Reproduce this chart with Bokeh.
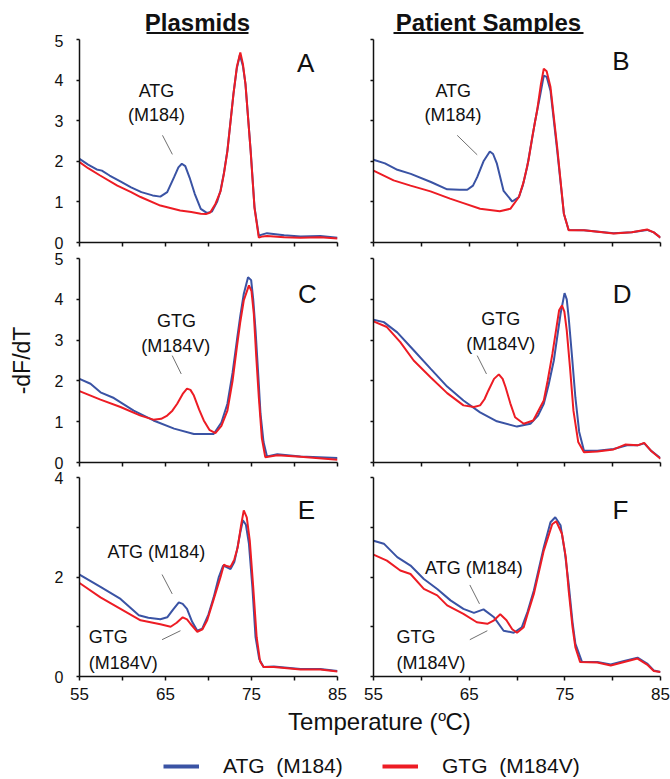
from bokeh.plotting import figure
from bokeh.layouts import column, row
from bokeh.models import Range1d, FixedTicker, Legend, LegendItem
from bokeh.core.properties import value
from bokeh.embed import file_html
from bokeh.resources import INLINE

FONT = "Liberation Sans"
BLUE = "#3a53a4"
RED = "#ed1c24"
LEADER = "#707070"
INK = "#111111"

# ---------------- data ----------------
x_major_ticks = [55, 65, 75, 85]
x_minor_ticks = [60, 70, 80]
y_ticks_5 = [0, 1, 2, 3, 4, 5]
y_major_ticks_4 = [0, 2, 4]
y_minor_ticks_4 = [1, 3]

col_titles = ["Plasmids", "Patient Samples"]
series_names = ["ATG  (M184)", "GTG  (M184V)"]
x_title = "Temperature ("
x_title_sup = "o"
x_title_end = "C)"
y_title = "-dF/dT"

# Panel A (plasmids)
a_atg_t = [55, 56, 57, 57.6, 58.5, 59.8, 61, 62.2, 63.5, 64.4, 65.2, 66.0, 66.5, 66.9, 67.3, 67.8, 68.4, 69.1,
           69.8, 70.4, 71.0, 71.4, 71.8, 72.2, 72.9, 73.3, 73.65, 74.0, 74.3, 74.9, 75.35, 75.85, 76.3, 76.8,
           78.8, 80.7, 83.0, 85]
a_atg_v = [2.06, 1.92, 1.80, 1.77, 1.65, 1.50, 1.36, 1.24, 1.16, 1.13, 1.24, 1.61, 1.85, 1.94, 1.88, 1.60, 1.20,
           0.83, 0.73, 0.76, 1.00, 1.28, 1.72, 2.27, 3.66, 4.30, 4.62, 4.35, 3.90, 2.27, 0.87, 0.17, 0.20, 0.23,
           0.18, 0.15, 0.16, 0.12]
a_gtg_t = [55, 56, 57.4, 59.4, 61, 62.1, 64.4, 66.7, 68.0, 69.1, 69.7, 70.2, 70.8, 71.4, 71.8, 72.2, 72.9, 73.3,
           73.7, 74.0, 74.3, 74.9, 75.35, 75.85, 76.3, 76.8, 78.8, 80.7, 83.0, 85]
a_gtg_v = [1.98, 1.83, 1.65, 1.40, 1.24, 1.12, 0.91, 0.79, 0.75, 0.71, 0.70, 0.74, 0.95, 1.26, 1.70, 2.25, 3.65,
           4.33, 4.68, 4.40, 3.90, 2.25, 0.85, 0.12, 0.15, 0.16, 0.13, 0.12, 0.13, 0.10]

# Panel B (patient samples)
b_atg_t = [55, 56.2, 57.5, 58.9, 61.0, 62.7, 64.0, 64.8, 65.4, 65.84, 66.5, 67.16, 67.5, 67.9, 68.6, 69.5, 70.2,
           70.6, 71.06, 71.5, 71.9, 72.4, 72.8, 73.1, 73.5, 74.2, 74.9, 75.4, 77.0, 80.1, 82.0, 83.6, 84.3, 85]
b_atg_v = [2.04, 1.95, 1.79, 1.69, 1.49, 1.31, 1.30, 1.30, 1.40, 1.61, 2.00, 2.24, 2.18, 1.94, 1.27, 1.01, 1.12,
           1.40, 1.86, 2.45, 3.00, 3.60, 4.11, 4.08, 3.74, 2.27, 0.71, 0.31, 0.30, 0.23, 0.25, 0.31, 0.25, 0.12]
b_gtg_t = [55, 57.1, 58.87, 60.96, 63.0, 64.4, 66.14, 68.2, 69.3, 70.2, 70.7, 71.2, 71.6, 72.1, 72.5, 72.8, 73.1,
           73.5, 74.2, 74.9, 75.4, 77.0, 80.1, 82.0, 83.6, 84.3, 85]
b_gtg_v = [1.77, 1.53, 1.40, 1.26, 1.08, 0.97, 0.83, 0.77, 0.83, 1.12, 1.50, 2.02, 2.60, 3.25, 3.90, 4.28, 4.22,
           3.83, 2.35, 0.71, 0.30, 0.30, 0.22, 0.25, 0.32, 0.25, 0.12]

# Panel C (plasmids)
c_atg_t = [55, 56.28, 57.44, 59.0, 61.3, 63.6, 66.0, 68.3, 70.6, 71.5, 72.2, 72.8, 73.3, 73.7, 74.1, 74.6, 74.96,
           75.2, 75.47, 75.8, 76.05, 76.4, 76.8, 78.0, 80.7, 85]
c_atg_v = [2.05, 1.93, 1.72, 1.58, 1.27, 1.03, 0.83, 0.70, 0.70, 0.98, 1.44, 2.20, 2.99, 3.60, 4.13, 4.54, 4.47,
           4.00, 3.24, 2.10, 1.19, 0.50, 0.15, 0.20, 0.15, 0.11]
c_gtg_t = [55, 57.44, 59.77, 62.1, 63.6, 64.5, 65.2, 65.8, 66.36, 67.0, 67.5, 67.9, 68.3, 68.9, 69.45, 70.1, 70.8,
           71.5, 72.2, 72.8, 73.3, 73.7, 74.1, 74.7, 75.0, 75.27, 75.55, 75.85, 76.2, 76.6, 78.0, 80.7, 85]
c_gtg_v = [1.75, 1.54, 1.36, 1.15, 1.05, 1.07, 1.15, 1.27, 1.44, 1.68, 1.81, 1.78, 1.64, 1.30, 1.03, 0.80, 0.72,
           0.90, 1.27, 2.00, 2.83, 3.45, 3.97, 4.34, 4.20, 3.64, 2.60, 1.60, 0.60, 0.13, 0.18, 0.14, 0.07]

# Panel D (patient samples)
d_atg_t = [55, 56.08, 57.48, 59.2, 60.96, 62.7, 64.4, 66.14, 67.9, 70.0, 71.4, 72.2, 72.8, 73.3, 73.85, 74.55,
           74.97, 75.2, 75.4, 75.75, 76.1, 76.5, 77.0, 78.4, 80.1, 81.5, 82.6, 83.3, 84.0, 85]
d_atg_v = [3.50, 3.44, 3.19, 2.75, 2.30, 1.86, 1.52, 1.23, 1.01, 0.88, 0.95, 1.15, 1.44, 1.90, 2.50, 3.64, 4.15,
           4.00, 3.56, 2.60, 1.60, 0.75, 0.29, 0.29, 0.33, 0.42, 0.42, 0.47, 0.29, 0.11]
d_gtg_t = [55, 56.4, 57.8, 59.2, 60.96, 62.7, 64.4, 65.5, 66.14, 66.6, 67.0, 67.6, 68.1, 68.5, 68.8, 69.3, 69.8,
           70.7, 71.7, 72.8, 73.2, 73.7, 74.4, 74.7, 74.95, 75.2, 75.55, 75.9, 76.4, 77.0, 78.4, 80.1, 81.3, 82.6,
           83.3, 84.0, 85]
d_gtg_v = [3.46, 3.32, 2.95, 2.50, 2.09, 1.70, 1.40, 1.36, 1.40, 1.55, 1.76, 2.05, 2.16, 2.05, 1.85, 1.45, 1.11,
           0.95, 1.03, 1.52, 2.00, 2.66, 3.73, 3.85, 3.70, 3.24, 2.30, 1.27, 0.50, 0.25, 0.27, 0.32, 0.44, 0.42,
           0.48, 0.29, 0.09]

# Panel E (plasmids, mixed)
e_atg_t = [55, 57.44, 59.77, 61.9, 63.0, 64.4, 65.2, 65.9, 66.55, 67.0, 67.5, 68.1, 68.7, 69.27, 70.0, 70.6, 71.2,
           71.7, 72.1, 72.56, 73.0, 73.3, 73.7, 74.0, 74.35, 74.7, 75.1, 75.47, 75.9, 76.4, 77.6, 80.7, 83.0, 85]
e_atg_v = [2.05, 1.80, 1.56, 1.23, 1.18, 1.15, 1.19, 1.35, 1.49, 1.46, 1.36, 1.10, 0.92, 0.96, 1.25, 1.59, 2.00,
           2.23, 2.20, 2.16, 2.30, 2.53, 2.90, 3.14, 3.05, 2.67, 1.80, 0.79, 0.35, 0.19, 0.20, 0.15, 0.15, 0.11]
e_gtg_t = [55, 57.44, 59.77, 62.1, 64.4, 65.6, 66.3, 67.0, 67.5, 67.9, 68.7, 69.3, 69.85, 70.6, 71.4, 71.8, 72.1,
           72.56, 73.0, 73.4, 73.8, 74.1, 74.45, 74.8, 75.2, 75.6, 76.0, 76.4, 77.6, 80.7, 83.0, 85]
e_gtg_v = [1.88, 1.59, 1.36, 1.13, 1.05, 1.00, 1.08, 1.19, 1.15, 1.06, 0.90, 0.95, 1.13, 1.55, 2.00, 2.25, 2.22,
           2.20, 2.35, 2.60, 3.05, 3.34, 3.20, 2.73, 1.80, 0.79, 0.30, 0.19, 0.19, 0.14, 0.14, 0.10]

# Panel F (patient samples, mixed)
f_atg_t = [55, 56.08, 57.48, 58.87, 60.26, 61.66, 63.05, 64.4, 65.5, 66.5, 67.6, 68.6, 69.66, 70.5, 71.1, 71.76,
           72.8, 73.5, 74.0, 74.55, 75.0, 75.4, 75.8, 76.1, 76.8, 78.4, 79.8, 81.2, 82.6, 83.6, 84.3, 85]
f_atg_v = [2.73, 2.67, 2.40, 2.23, 1.96, 1.76, 1.53, 1.36, 1.28, 1.35, 1.19, 0.92, 0.88, 0.99, 1.30, 1.73, 2.60,
           3.10, 3.20, 3.04, 2.50, 1.86, 1.10, 0.66, 0.29, 0.29, 0.24, 0.31, 0.38, 0.26, 0.12, 0.09]
f_gtg_t = [55, 56.4, 57.8, 58.87, 60.26, 61.66, 62.7, 64.4, 65.8, 66.9, 67.6, 68.25, 68.9, 69.5, 70.0, 70.7, 71.1,
           71.76, 72.8, 73.68, 74.1, 74.7, 75.1, 75.4, 75.8, 76.1, 76.6, 78.4, 79.8, 81.2, 82.6, 83.6, 84.3, 85]
f_gtg_v = [2.45, 2.33, 2.13, 2.06, 1.76, 1.63, 1.43, 1.26, 1.09, 1.06, 1.13, 1.25, 1.13, 0.95, 0.88, 0.99, 1.25,
           1.66, 2.53, 3.06, 3.12, 2.87, 2.40, 1.73, 1.00, 0.59, 0.29, 0.28, 0.22, 0.29, 0.36, 0.24, 0.11, 0.09]

# annotation texts (text, x, y of text centre, align) in data coordinates
annot_A = [("ATG", 63.95, 3.72, "center"), ("(M184)", 63.95, 3.15, "center")]
annot_B = [("ATG", 63.34, 3.73, "center"), ("(M184)", 63.3, 3.15, "center")]
annot_C = [("GTG", 66.28, 3.47, "center"), ("(M184V)", 66.2, 2.85, "center")]
annot_D = [("GTG", 68.3, 3.51, "center"), ("(M184V)", 68.3, 2.90, "center")]
annot_E = [("ATG (M184)", 63.93, 2.50, "center"), ("GTG", 56.08, 0.79, "left"), ("(M184V)", 56.08, 0.28, "left")]
annot_F = [("ATG (M184)", 65.5, 2.18, "center"), ("GTG", 57.4, 0.79, "left"), ("(M184V)", 57.4, 0.28, "left")]

# leader lines (x0, y0, x1, y1)
lead_A = [(64.65, 2.64, 65.8, 2.17)]
lead_B = [(63.75, 2.64, 65.84, 2.16)]
lead_C = [(65.78, 2.62, 66.83, 2.17)]
lead_D = [(65.84, 2.62, 66.81, 2.17)]
lead_E = [(64.6, 2.05, 65.78, 1.66), (64.6, 0.74, 66.74, 0.92)]
lead_F = [(65.07, 1.84, 66.08, 1.46), (65.07, 0.74, 66.9, 0.92)]

letter_pos = {"A": (81.3, 4.41), "B": (80.87, 4.46), "C": (81.5, 4.12),
              "D": (81.0, 4.12), "E": (81.4, 3.34), "F": (80.8, 3.35)}


def style_axis(ax, tick_out):
    ax.axis_line_color = INK
    ax.axis_line_width = 1.5
    ax.major_tick_line_color = INK
    ax.major_tick_line_width = 1.5
    ax.minor_tick_line_color = INK
    ax.minor_tick_line_width = 1.5
    ax.major_tick_in = 0
    ax.minor_tick_in = 0
    ax.major_tick_out = tick_out
    ax.minor_tick_out = tick_out
    ax.major_label_text_font = FONT
    ax.major_label_text_color = INK


def make_panel(w, h, bl, br, bt, bb, ymax, yticker, show_xlabels, show_ylabels,
               atg_t, atg_v, gtg_t, gtg_v, letter, annots, leads, ylab=None):
    p = figure(width=w, height=h, x_range=Range1d(55, 85), y_range=Range1d(0, ymax),
               output_backend="svg", toolbar_location=None, title=None,
               min_border_left=bl, min_border_right=br, min_border_top=bt, min_border_bottom=bb)
    p.outline_line_color = None
    p.grid.visible = False
    p.background_fill_color = "white"
    p.border_fill_color = "white"
    xa = p.xaxis[0]
    ya = p.yaxis[0]
    style_axis(xa, 4)
    style_axis(ya, 3)
    xa.ticker = FixedTicker(ticks=x_major_ticks, minor_ticks=x_minor_ticks)
    ya.ticker = yticker
    if show_xlabels:
        xa.major_label_text_font_size = "17px"
        xa.major_label_standoff = 7
    else:
        xa.major_label_text_font_size = "1px"
        xa.major_label_text_color = None
        xa.major_label_standoff = 0
    if show_ylabels:
        ya.major_label_text_font_size = "16px"
        ya.major_label_standoff = 13
    else:
        ya.major_label_text_font_size = "1px"
        ya.major_label_text_color = None
        ya.major_label_standoff = 0
    if ylab:
        ya.axis_label = ylab
        ya.axis_label_text_font = FONT
        ya.axis_label_text_font_size = "23px"
        ya.axis_label_text_font_style = "normal"
        ya.axis_label_text_color = INK
        ya.axis_label_standoff = 17

    p.line(atg_t, atg_v, line_color=BLUE, line_width=2)
    p.line(gtg_t, gtg_v, line_color=RED, line_width=2)

    for (x0, y0, x1, y1) in leads:
        p.segment(x0=[x0], y0=[y0], x1=[x1], y1=[y1], line_color=LEADER, line_width=1)
    for (txt, tx, ty, al) in annots:
        p.text(x=[tx], y=[ty], text=[txt], text_align=al, text_baseline="middle",
               text_font=value(FONT), text_font_size="18px", text_color=INK)
    lx, ly = letter_pos[letter]
    p.text(x=[lx], y=[ly], text=[letter], text_align="center", text_baseline="middle",
           text_font=value(FONT), text_font_size="26px", text_color=INK)
    return p


def ticker5():
    return FixedTicker(ticks=y_ticks_5)


def ticker4():
    return FixedTicker(ticks=y_major_ticks_4, minor_ticks=y_minor_ticks_4)


# geometry (page origin 0,0): left column canvas 355 wide, right column 315 wide
LW, RW = 355, 315
W = LW + RW

# header with underlined column titles (coordinates are page pixels)
head = figure(width=W, height=34, x_range=Range1d(0, W), y_range=Range1d(34, 0),
              output_backend="svg", toolbar_location=None, x_axis_type=None, y_axis_type=None,
              title=None, min_border_left=0, min_border_right=0, min_border_top=0, min_border_bottom=0)
head.outline_line_color = None
head.grid.visible = False
head.text(x=[197, 488], y=[21.5, 21.5], text=col_titles, text_align="center", text_baseline="middle",
          text_font=value(FONT), text_font_size="24px", text_font_style="bold", text_color=INK)
head.segment(x0=[146, 393], y0=[32.5, 32.5], x1=[248, 583], y1=[32.5, 32.5], line_color=INK, line_width=2)

pA = make_panel(LW, 216, 79, 18, 5, 8, 5, ticker5(), False, True,
                a_atg_t, a_atg_v, a_gtg_t, a_gtg_v, "A", annot_A, lead_A)
pB = make_panel(RW, 216, 18, 10, 5, 8, 5, ticker5(), False, False,
                b_atg_t, b_atg_v, b_gtg_t, b_gtg_v, "B", annot_B, lead_B)
pC = make_panel(LW, 220, 79, 18, 8, 8, 5, ticker5(), False, True,
                c_atg_t, c_atg_v, c_gtg_t, c_gtg_v, "C", annot_C, lead_C, ylab=y_title)
pD = make_panel(RW, 220, 18, 10, 8, 8, 5, ticker5(), False, False,
                d_atg_t, d_atg_v, d_gtg_t, d_gtg_v, "D", annot_D, lead_D)
pE = make_panel(LW, 238, 79, 18, 7, 32, 4, ticker4(), True, True,
                e_atg_t, e_atg_v, e_gtg_t, e_gtg_v, "E", annot_E, lead_E)
pF = make_panel(RW, 238, 18, 10, 7, 32, 4, ticker4(), True, False,
                f_atg_t, f_atg_v, f_gtg_t, f_gtg_v, "F", annot_F, lead_F)

# footer: x-axis title and legend (coordinates are page pixels)
foot = figure(width=W, height=71, x_range=Range1d(0, W), y_range=Range1d(779, 708),
              output_backend="svg", toolbar_location=None, x_axis_type=None, y_axis_type=None,
              title=None, min_border_left=0, min_border_right=0, min_border_top=0, min_border_bottom=0)
foot.outline_line_color = None
foot.grid.visible = False
foot.text(x=[437], y=[720.5], text=[x_title], text_align="right", text_baseline="middle",
          text_font=value(FONT), text_font_size="24px", text_color=INK)
foot.text(x=[437.5], y=[715], text=[x_title_sup], text_align="left", text_baseline="middle",
          text_font=value(FONT), text_font_size="15px", text_color=INK)
foot.text(x=[445], y=[720.5], text=[x_title_end], text_align="left", text_baseline="middle",
          text_font=value(FONT), text_font_size="24px", text_color=INK)

nan = float("nan")
r_atg = foot.line(x=[nan], y=[nan], line_color=BLUE, line_width=4)
r_gtg = foot.line(x=[nan], y=[nan], line_color=RED, line_width=4)
legend = Legend(items=[LegendItem(label=series_names[0], renderers=[r_atg]),
                       LegendItem(label=series_names[1], renderers=[r_gtg])],
                orientation="horizontal", location=(163, 1), padding=0, margin=0,
                glyph_width=36, glyph_height=20, label_standoff=24, label_width=125, spacing=34,
                label_text_font=FONT, label_text_font_size="21px", label_text_color=INK,
                border_line_color=None, background_fill_alpha=0)
foot.add_layout(legend, "center")

layout = column(head, row(pA, pB), row(pC, pD), row(pE, pF), foot)

with open("out.html", "w") as fh:
    fh.write(file_html(layout, INLINE))
